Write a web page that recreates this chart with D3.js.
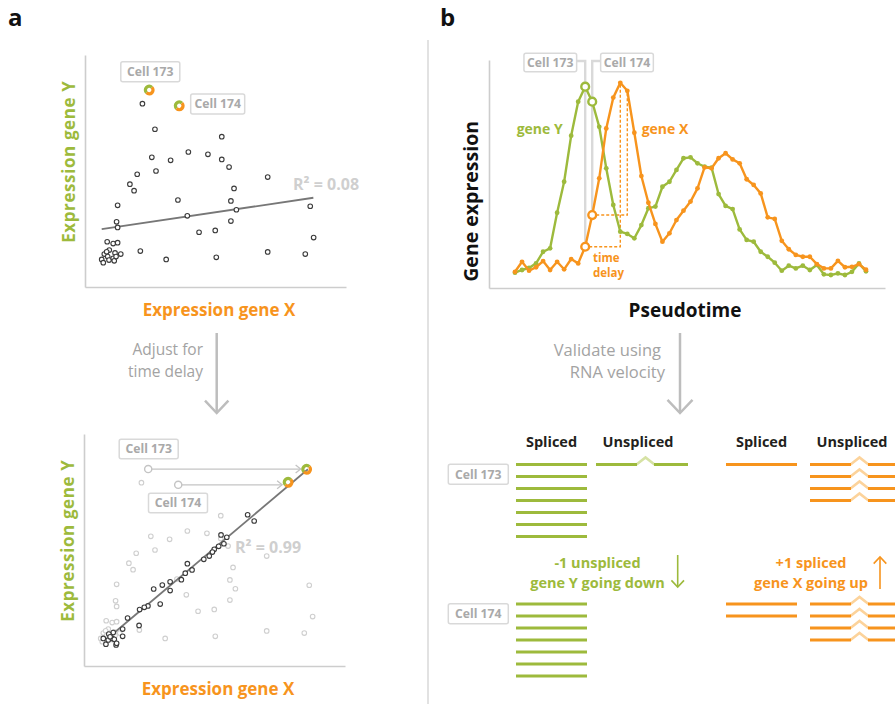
<!DOCTYPE html>
<html>
<head>
<meta charset="utf-8">
<script src="https://cdn.jsdelivr.net/npm/d3@7"></script>
<style>
  body { margin: 0; background: #fff; }
  text { font-family: 'Open Sans', 'Noto Sans', sans-serif; }
</style>
</head>
<body>
<svg id="chart" width="895" height="704"></svg>
<script>
// ---------- data ----------
// Cells: expression of gene X and gene Y (first two are Cell 173 and Cell 174)
const cellNames = ["Cell 173", "Cell 174"];
const cellX = [2.46, 3.61, 2.20, 2.68, 5.24, 2.56, 3.28, 3.96, 4.71, 5.24, 5.52, 2.72, 2.00, 1.72, 1.88, 7.00, 5.71,
  1.25, 3.56, 5.59, 5.80, 3.92, 5.59, 1.21, 1.25, 8.63, 8.76, 4.37, 4.99, 0.85, 1.08, 1.25, 0.93, 1.37, 1.15, 2.12,
  3.11, 5.03, 7.00, 8.44, 0.64, 0.70, 0.74, 0.83, 0.87, 0.92, 1.08, 1.12, 1.19];
const cellY = [8.49, 7.81, 7.90, 6.80, 6.48, 5.59, 5.46, 5.82, 5.72, 5.50, 5.17, 5.00, 4.86, 4.43, 4.15, 4.74, 4.25,
  3.52, 3.75, 3.71, 3.33, 3.07, 2.84, 2.81, 2.57, 3.48, 2.13, 2.36, 2.44, 1.95, 1.87, 1.91, 1.59, 1.42, 1.47, 1.55,
  1.19, 1.28, 1.51, 1.42, 1.19, 1.05, 1.42, 1.52, 1.31, 1.16, 1.24, 1.13, 1.31];
// Gene X expression after shifting by the time delay
const adjX = [8.53, 7.82, 6.27, 6.52, 5.25, 5.47, 5.36, 5.16, 4.99, 4.92, 4.80, 4.59, 3.96, 4.14, 3.88, 3.73, 3.30,
  3.00, 2.67, 3.30, 2.92, 2.45, 2.31, 2.13, 1.67, 2.11, 1.48, 1.48, 1.12, 0.95, 0.74, 0.84, 0.93, 1.08, 1.16, 1.23,
  1.25, 1.00];
const adjY = [8.48, 7.92, 6.52, 6.25, 5.65, 5.55, 5.27, 5.16, 5.03, 4.91, 4.74, 4.60, 4.41, 4.14, 4.00, 3.72, 3.63,
  3.49, 3.32, 3.25, 2.67, 2.59, 2.53, 2.43, 2.07, 1.75, 1.59, 1.28, 1.44, 1.38, 1.19, 0.94, 1.12, 1.19, 1.15, 0.91,
  0.98, 1.26];
// Linear fits: [intercept, slope] and x-extent
const fitBefore = [2.39, 0.1665];
const fitBeforeExtent = [0.64, 8.75];
const fitAfter = [0.336, 0.949];
const fitAfterExtent = [1.10, 8.58];
const r2Values = [0.08, 0.99];

// Expression along pseudotime
const geneY = [0.67, 0.79, 0.88, 1.08, 1.59, 1.74, 3.30, 4.66, 6.68, 8.17, 8.83, 8.17, 7.07, 5.25, 3.64, 2.47, 2.37,
  2.18, 2.76, 3.50, 3.57, 4.44, 4.66, 5.18, 5.69, 5.73, 5.47, 5.32, 5.28, 4.12, 3.60, 3.46, 2.57, 2.11, 2.03, 1.59,
  1.37, 1.11, 0.76, 0.98, 0.86, 0.98, 0.79, 1.01, 0.60, 0.57, 0.64, 0.57, 0.71, 1.08, 0.73];
const geneX = [0.71, 1.15, 0.76, 0.91, 1.18, 0.79, 1.15, 0.82, 1.27, 1.08, 1.81, 3.20, 4.81, 7.00, 8.35, 9.00, 8.65,
  6.81, 4.91, 3.74, 2.81, 2.03, 2.40, 2.98, 3.39, 3.79, 4.37, 5.29, 5.25, 5.69, 5.91, 5.64, 5.47, 4.77, 4.52, 4.15,
  3.10, 3.03, 2.07, 1.70, 1.45, 1.37, 1.37, 1.05, 0.86, 0.86, 1.19, 0.91, 0.93, 1.05, 0.80];
const cellTimeIndex = [10, 11];      // pseudotime position of Cell 173 / Cell 174
const peakMatchIndex = [15, 16];     // matching gene X position after the delay

// Molecule counts per cell: [cell173, cell174]
const geneYSpliced = [7, 7];
const geneYUnspliced = [1, 0];
const geneXSpliced = [1, 2];
const geneXUnspliced = [4, 4];

// ---------- styles ----------
const GREEN = "#9dba3c", ORANGE = "#f7941d";
const LGREEN = "#d6e2a4", LORANGE = "#fcd39b";
const AXIS = "#cdcdcd", TAGLINE = "#d9d9d9", TAGTEXT = "#a9a9a9";
const svg = d3.select("#chart");

// ---------- helpers ----------
function frameAxes(g, xs, ys) {
  const ax = g.append("g").attr("transform", `translate(0,${ys.range()[0]})`)
    .call(d3.axisBottom(xs).tickValues([]).tickSizeOuter(0));
  const ay = g.append("g").attr("transform", `translate(${xs.range()[0]},0)`)
    .call(d3.axisLeft(ys).tickValues([]).tickSizeOuter(0));
  [ax, ay].forEach(a => a.select(".domain").attr("stroke", AXIS).attr("stroke-width", 1.6));
}
function cellTag(g, label, cx, cy, w, h) {
  g.append("rect").attr("x", cx - w / 2).attr("y", cy - h / 2).attr("width", w).attr("height", h)
    .attr("rx", 2).attr("fill", "#fff").attr("stroke", TAGLINE).attr("stroke-width", 1.5);
  g.append("text").attr("x", cx).attr("y", cy + 4.3).attr("text-anchor", "middle")
    .attr("font-size", 12.2).attr("font-weight", 700).attr("fill", TAGTEXT).text(label);
}
function splitRing(g, cx, cy) {
  const arc = d3.arc().innerRadius(2.2).outerRadius(5.4);
  g.append("path").attr("transform", `translate(${cx},${cy})`)
    .attr("d", arc({ startAngle: -Math.PI * 0.75, endAngle: Math.PI * 0.25 })).attr("fill", GREEN);
  g.append("path").attr("transform", `translate(${cx},${cy})`)
    .attr("d", arc({ startAngle: Math.PI * 0.25, endAngle: Math.PI * 1.25 })).attr("fill", ORANGE);
}
function arrow(g, x, y0, y1, head, color, width) {
  g.append("line").attr("x1", x).attr("x2", x).attr("y1", y0).attr("y2", y1)
    .attr("stroke", color).attr("stroke-width", width);
  const dir = y1 > y0 ? -1 : 1;
  g.append("path").attr("d", d3.line()([[x - head, y1 + dir * head * 1.05], [x, y1], [x + head, y1 + dir * head * 1.05]]))
    .attr("fill", "none").attr("stroke", color).attr("stroke-width", width);
}
// two-line text block in a single text element
function twoLines(g, lines, x, y, gap, anchor, size, weight, color) {
  const t = g.append("text").attr("text-anchor", anchor).attr("font-size", size)
    .attr("font-weight", weight).attr("fill", color);
  lines.forEach((s, i) => t.append("tspan").attr("x", Array.isArray(x) ? x[i] : x).attr("y", y + i * gap).text(s));
}

// ---------- panel labels and divider ----------
svg.append("text").attr("x", 8).attr("y", 26).attr("font-size", 24).attr("font-weight", 700).attr("fill", "#111").text("a");
svg.append("text").attr("x", 440).attr("y", 26).attr("font-size", 24).attr("font-weight", 700).attr("fill", "#111").text("b");
svg.append("line").attr("x1", 428).attr("x2", 428).attr("y1", 40).attr("y2", 704)
  .attr("stroke", "#e2e2e2").attr("stroke-width", 2);

// ---------- panel a: scatter plots ----------
const sx = d3.scaleLinear().domain([0, 10]).range([85, 346]);
const sy = d3.scaleLinear().domain([0, 10]).range([287, 55]);
const fitLine = (fit, ext) => d3.line()(ext.map(v => [sx(v), sy(fit[0] + fit[1] * v)]));

function scatterTitles(g) {
  g.append("text").attr("transform", `translate(75,${sy(5.4)}) rotate(-90)`).attr("text-anchor", "middle")
    .attr("font-size", 17).attr("font-weight", 700).attr("letter-spacing", 0.6).attr("fill", GREEN).text("Expression gene Y");
  g.append("text").attr("x", 219).attr("y", 316).attr("text-anchor", "middle")
    .attr("font-size", 17).attr("font-weight", 700).attr("fill", ORANGE).text("Expression gene X");
}

// before adjustment
const gA = svg.append("g");
frameAxes(gA, sx, sy);
scatterTitles(gA);
gA.append("path").attr("d", fitLine(fitBefore, fitBeforeExtent)).attr("stroke", "#777").attr("stroke-width", 1.8).attr("fill", "none");
gA.append("text").attr("x", 293).attr("y", 190).attr("font-size", 16).attr("font-weight", 700).attr("fill", "#cfcfcf")
  .text(`R² = ${r2Values[0].toFixed(2)}`);
gA.selectAll("circle.pt").data(cellX.slice(2).map((x, i) => [x, cellY[i + 2]])).join("circle")
  .attr("class", "pt").attr("cx", d => sx(d[0])).attr("cy", d => sy(d[1])).attr("r", 2.3)
  .attr("fill", "#fff").attr("stroke", "#3b3b3b").attr("stroke-width", 1.1);
cellTag(gA, cellNames[0], 150.3, 71.7, 59, 20);
cellTag(gA, cellNames[1], 217.7, 104, 54, 20);
[0, 1].forEach(i => splitRing(gA, sx(cellX[i]), sy(cellY[i])));

// arrow between the panels
twoLines(svg, ["Adjust for", "time delay"], 203, 355, 21.5, "end", 15.5, 400, "#a3a3a3");
arrow(svg, 216.7, 333, 413, 11.7, "#bdbdbd", 2.5);

// after adjustment
const gB = svg.append("g").attr("transform", "translate(-1,379)");
frameAxes(gB, sx, sy);
scatterTitles(gB);
gB.selectAll("circle.old").data(cellX.slice(2).map((x, i) => [x, cellY[i + 2]])).join("circle")
  .attr("class", "old").attr("cx", d => sx(d[0])).attr("cy", d => sy(d[1])).attr("r", 2.3)
  .attr("fill", "#fff").attr("stroke", "#cfcfcf").attr("stroke-width", 1.1);
// shift arrows for the two highlighted cells
[0, 1].forEach(i => {
  const x0 = sx(cellX[i]), x1 = sx(adjX[i]), y = sy(cellY[i]);
  gB.append("line").attr("x1", x0 + 3.4).attr("x2", x1 - 6).attr("y1", y).attr("y2", y)
    .attr("stroke", "#c4c4c4").attr("stroke-width", 1.3);
  gB.append("path").attr("d", d3.line()([[x1 - 11, y - 4], [x1 - 6, y], [x1 - 11, y + 4]]))
    .attr("fill", "none").attr("stroke", "#c4c4c4").attr("stroke-width", 1.3);
  gB.append("circle").attr("cx", x0).attr("cy", y).attr("r", 3.6)
    .attr("fill", "#fff").attr("stroke", "#c4c4c4").attr("stroke-width", 1.4);
});
cellTag(gB, cellNames[0], 149.7, 70, 59, 19.5);
cellTag(gB, cellNames[1], 179, 124, 59, 19.5);
gB.append("path").attr("d", fitLine(fitAfter, fitAfterExtent)).attr("stroke", "#777").attr("stroke-width", 1.8).attr("fill", "none");
gB.selectAll("circle.adj").data(adjX.slice(2).map((x, i) => [x, adjY[i + 2]])).join("circle")
  .attr("class", "adj").attr("cx", d => sx(d[0])).attr("cy", d => sy(d[1])).attr("r", 2.3)
  .attr("fill", "#fff").attr("stroke", "#3b3b3b").attr("stroke-width", 1.1);
gB.append("text").attr("x", 236).attr("y", 174).attr("font-size", 16).attr("font-weight", 700).attr("fill", "#cfcfcf")
  .text(`R² = ${r2Values[1].toFixed(2)}`);
[0, 1].forEach(i => splitRing(gB, sx(adjX[i]), sy(adjY[i])));

// ---------- panel b: pseudotime curves ----------
const tx = d3.scaleLinear().domain([0, geneY.length - 1]).range([515, 866]);
const ty = d3.scaleLinear().domain([0, 10]).range([288, 60]);
const frameX = d3.scaleLinear().domain([0, 1]).range([489, 885]);
frameAxes(svg.append("g"), frameX, ty);
svg.append("text").attr("transform", `translate(478,${ty(3.8)}) rotate(-90)`).attr("text-anchor", "middle")
  .attr("font-size", 19.5).attr("font-weight", 700).attr("fill", "#111").text("Gene expression");
svg.append("text").attr("x", 685).attr("y", 317).attr("text-anchor", "middle")
  .attr("font-size", 19).attr("font-weight", 700).attr("fill", "#111").text("Pseudotime");

const gC = svg.append("g");
// cell markers: vertical guides with tags
cellTimeIndex.forEach((t, i) => {
  const x = tx(t), yEnd = ty(geneX[t]) - 4;
  const tagX = i === 0 ? 576.7 : 600.7;
  gC.append("path").attr("d", d3.line()([[tagX, 61], [x, 61], [x, yEnd]]))
    .attr("fill", "none").attr("stroke", TAGLINE).attr("stroke-width", 2.4);
});
cellTag(gC, cellNames[0], 550.3, 62.5, 52.7, 18.4);
cellTag(gC, cellNames[1], 627, 62.5, 52.7, 18.4);
// time delay guides
cellTimeIndex.forEach((t, i) => {
  const p = peakMatchIndex[i];
  gC.append("path").attr("d", d3.line()([[tx(t) + 4, ty(geneX[t])], [tx(p), ty(geneX[t])], [tx(p), ty(geneX[p])]]))
    .attr("fill", "none").attr("stroke", ORANGE).attr("stroke-width", 1.4).attr("stroke-dasharray", "3,2");
});
twoLines(gC, ["time", "delay"], 593, 262, 14.5, "start", 11.5, 700, ORANGE);

const curve = d3.line().x((d, i) => tx(i)).y(d => ty(d));
[[geneY, GREEN], [geneX, ORANGE]].forEach(([vals, col]) => {
  gC.append("path").attr("d", curve(vals)).attr("fill", "none").attr("stroke", col).attr("stroke-width", 2.4)
    .attr("stroke-linejoin", "round");
  gC.append("g").selectAll("circle").data(vals).join("circle")
    .attr("cx", (d, i) => tx(i)).attr("cy", d => ty(d)).attr("r", 2.4).attr("fill", col);
});
[[geneY, GREEN], [geneX, ORANGE]].forEach(([vals, col]) => {
  cellTimeIndex.forEach(t => {
    gC.append("circle").attr("cx", tx(t)).attr("cy", ty(vals[t])).attr("r", 3.9)
      .attr("fill", "#fff").attr("stroke", col).attr("stroke-width", 2.4);
  });
});
gC.append("text").attr("x", 516.7).attr("y", 134).attr("font-size", 14).attr("font-weight", 700).attr("fill", GREEN).text("gene Y");
gC.append("text").attr("x", 641.7).attr("y", 134).attr("font-size", 14).attr("font-weight", 700).attr("fill", ORANGE).text("gene X");

// arrow to the velocity check
twoLines(svg, ["Validate using", "RNA velocity"], [661, 665], 355.5, 22.5, "end", 16.5, 400, "#a3a3a3");
arrow(svg, 680, 333, 413, 12.5, "#bdbdbd", 2.5);

// ---------- panel b: spliced / unspliced molecules ----------
const gD = svg.append("g");
const columns = [
  { title: "Spliced", x0: 516, color: GREEN, light: LGREEN, counts: geneYSpliced, intron: false },
  { title: "Unspliced", x0: 596, color: GREEN, light: LGREEN, counts: geneYUnspliced, intron: true },
  { title: "Spliced", x0: 726, color: ORANGE, light: LORANGE, counts: geneXSpliced, intron: false },
  { title: "Unspliced", x0: 810, color: ORANGE, light: LORANGE, counts: geneXUnspliced, intron: true }
];
const molStep = 12, spliceLen = 71;
const rowTop = [464.5, 604];
const mol = d3.scaleLinear().domain([0, 1]).range([0, molStep]);
columns.forEach(c => {
  const center = c.x0 + (c.intron ? 42 : spliceLen / 2);
  gD.append("text").attr("x", center).attr("y", 447).attr("text-anchor", "middle")
    .attr("font-size", 14.5).attr("font-weight", 700).attr("fill", "#231f20").text(c.title);
  c.counts.forEach((n, cell) => {
    d3.range(n).forEach(k => {
      const y = rowTop[cell] + mol(k);
      if (!c.intron) {
        gD.append("line").attr("x1", c.x0).attr("x2", c.x0 + spliceLen).attr("y1", y).attr("y2", y)
          .attr("stroke", c.color).attr("stroke-width", 2.8);
      } else {
        gD.append("path").attr("d", d3.line()([[c.x0 + 40.5, y], [c.x0 + 49.5, y - 7], [c.x0 + 58.5, y]]))
          .attr("fill", "none").attr("stroke", c.light).attr("stroke-width", 2.6);
        gD.append("line").attr("x1", c.x0).attr("x2", c.x0 + 41).attr("y1", y).attr("y2", y)
          .attr("stroke", c.color).attr("stroke-width", 2.8);
        gD.append("line").attr("x1", c.x0 + 58).attr("x2", c.x0 + 92).attr("y1", y).attr("y2", y)
          .attr("stroke", c.color).attr("stroke-width", 2.8);
      }
    });
  });
});
cellTag(gD, cellNames[0], 478.3, 474.2, 60, 20);
cellTag(gD, cellNames[1], 478.3, 613.7, 60, 20);

twoLines(gD, ["-1 unspliced", "gene Y going down"], 597.5, 568, 19.5, "middle", 14.5, 700, GREEN);
arrow(gD, 677.7, 555, 587, 6.3, GREEN, 1.6);
twoLines(gD, ["+1 spliced", "gene X going up"], 811, 568, 19.5, "middle", 14.5, 700, ORANGE);
arrow(gD, 880, 589, 557, 6.3, ORANGE, 1.6);
</script>
</body>
</html>
